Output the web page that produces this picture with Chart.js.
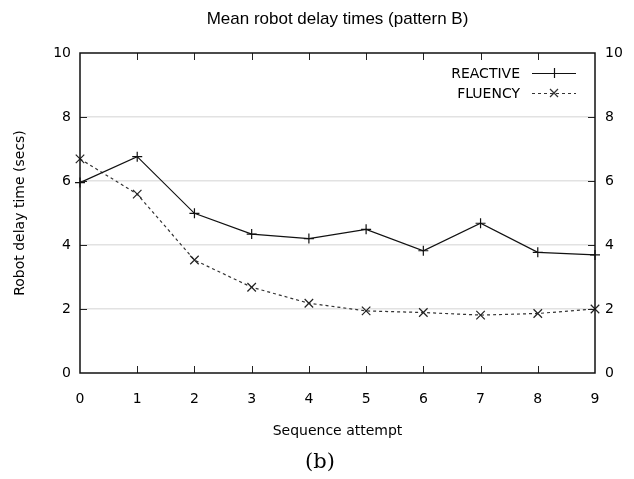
<!DOCTYPE html>
<html>
<head>
<meta charset="utf-8">
<style>
html,body{margin:0;padding:0;background:#fff;}
#wrap{width:634px;height:479px;position:relative;}
</style>
<script src="https://cdn.jsdelivr.net/npm/chart.js@4.4.1/dist/chart.umd.min.js"></script>
</head>
<body>
<div id="wrap"><canvas id="c" width="634" height="479"></canvas></div>
<script>
// ---- data ----
const attempts = [0, 1, 2, 3, 4, 5, 6, 7, 8, 9];
const reactive = [5.95, 6.76, 4.99, 4.34, 4.20, 4.49, 3.82, 4.68, 3.77, 3.69];
const fluency  = [6.69, 5.59, 3.53, 2.68, 2.18, 1.94, 1.89, 1.81, 1.86, 2.00];
const yTickValues = [0, 2, 4, 6, 8, 10];
const xTickValues = [0, 1, 2, 3, 4, 5, 6, 7, 8, 9];
const seriesNames = ['REACTIVE', 'FLUENCY'];
const chartTitle = 'Mean robot delay times (pattern B)';
const xTitle = 'Sequence attempt';
const yTitle = 'Robot delay time (secs)';
const panelLabel = '(b)';

const SANS = "'DejaVu Sans', sans-serif";

const boxPlugin = {
  id: 'boxPlugin',
  afterDatasetsDraw(chart) {
    const {ctx, chartArea: a, scales} = chart;
    const x = scales.x, y = scales.y;
    ctx.save();
    ctx.strokeStyle = '#222';
    ctx.lineWidth = 1;
    const tl = 7;
    ctx.beginPath();
    xTickValues.forEach(v => {
      if (v === x.min || v === x.max) return;
      const px = Math.round(x.getPixelForValue(v)) + 0.5;
      ctx.moveTo(px, a.bottom); ctx.lineTo(px, a.bottom - tl);
      ctx.moveTo(px, a.top); ctx.lineTo(px, a.top + tl);
    });
    yTickValues.forEach(v => {
      if (v === y.min || v === y.max) return;
      const py = Math.round(y.getPixelForValue(v)) + 0.5;
      ctx.moveTo(a.left, py); ctx.lineTo(a.left + tl, py);
      ctx.moveTo(a.right, py); ctx.lineTo(a.right - tl, py);
    });
    ctx.stroke();
    ctx.lineWidth = 1.5;
    ctx.strokeStyle = '#111';
    ctx.strokeRect(a.left, a.top, a.right - a.left, a.bottom - a.top);

    // legend
    ctx.font = '14px ' + SANS;
    ctx.fillStyle = '#000';
    ctx.textAlign = 'right';
    ctx.textBaseline = 'middle';
    const rows = [
      {name: seriesNames[0], y: 73, dash: [], marker: 'plus', color: '#111'},
      {name: seriesNames[1], y: 93, dash: [3, 3], marker: 'x', color: '#333'}
    ];
    rows.forEach(r => {
      ctx.fillText(r.name, 520, r.y + 1);
      ctx.save();
      ctx.strokeStyle = r.color;
      ctx.lineWidth = 1.2;
      ctx.setLineDash(r.dash);
      ctx.beginPath();
      ctx.moveTo(532, r.y + 0.5); ctx.lineTo(576, r.y + 0.5);
      ctx.stroke();
      ctx.setLineDash([]);
      ctx.beginPath();
      if (r.marker === 'plus') {
        ctx.moveTo(549, r.y + 0.5); ctx.lineTo(559, r.y + 0.5);
        ctx.moveTo(554.5, r.y - 5); ctx.lineTo(554.5, r.y + 5);
      } else {
        ctx.moveTo(550, r.y - 4); ctx.lineTo(558, r.y + 4);
        ctx.moveTo(550, r.y + 4); ctx.lineTo(558, r.y - 4);
      }
      ctx.stroke();
      ctx.restore();
    });
    ctx.restore();
  }
};

const ctx = document.getElementById('c').getContext('2d');
new Chart(ctx, {
  type: 'line',
  data: {
    datasets: [
      {
        label: seriesNames[0],
        data: attempts.map((a, i) => ({x: a, y: reactive[i]})),
        borderColor: '#111',
        backgroundColor: '#111',
        borderWidth: 1.2,
        tension: 0,
        fill: false,
        pointStyle: 'cross',
        pointRadius: 5,
        pointBorderWidth: 1.2,
        pointBorderColor: '#111',
        pointHoverRadius: 5,
        clip: false
      },
      {
        label: seriesNames[1],
        data: attempts.map((a, i) => ({x: a, y: fluency[i]})),
        borderColor: '#333',
        backgroundColor: '#333',
        borderWidth: 1.2,
        borderDash: [3, 3],
        tension: 0,
        fill: false,
        pointStyle: 'crossRot',
        pointRadius: 6,
        pointBorderWidth: 1.2,
        pointBorderColor: '#222',
        pointHoverRadius: 6,
        clip: false
      }
    ]
  },
  options: {
    responsive: false,
    animation: false,
    devicePixelRatio: 1,
    layout: {padding: {left: 6, right: 0, top: 0, bottom: 0}},
    plugins: {
      legend: {display: false},
      tooltip: {enabled: false},
      title: {display: false},
      subtitle: {
        display: true,
        text: panelLabel,
        position: 'bottom',
        color: '#000',
        font: {family: "'DejaVu Serif', serif", size: 21, weight: 'normal', lineHeight: 1.2},
        padding: {top: 0, bottom: 3.4}
      }
    },
    scales: {
      x: {
        type: 'linear',
        position: 'bottom',
        min: 0, max: 9,
        afterBuildTicks(s) { s.ticks = xTickValues.map(v => ({value: v})); },
        afterFit(s) { s.height = 77.4; },
        ticks: {color: '#000', font: {family: SANS, size: 14}, padding: 18, maxRotation: 0},
        grid: {display: false, drawTicks: false},
        border: {display: false},
        title: {display: true, text: xTitle, color: '#000', font: {family: SANS, size: 14}, padding: {top: 0, bottom: 11}}
      },
      x2: {
        type: 'linear',
        position: 'top',
        min: 0, max: 9,
        afterFit(s) { s.height = 53; },
        ticks: {display: false},
        grid: {display: false, drawTicks: false},
        border: {display: false},
        title: {display: true, text: chartTitle, color: '#000', font: {family: "'Liberation Sans', Arial, sans-serif", size: 17}, padding: {top: 9, bottom: 0}}
      },
      y: {
        type: 'linear',
        position: 'left',
        min: 0, max: 10,
        afterBuildTicks(s) { s.ticks = yTickValues.map(v => ({value: v})); },
        afterFit(s) { s.width = 74; },
        ticks: {color: '#000', font: {family: SANS, size: 14}, padding: 9},
        grid: {
          color: (c) => (c.tick && (c.tick.value === 0 || c.tick.value === 10)) ? 'rgba(0,0,0,0)' : '#e2e2e2',
          lineWidth: 1.5,
          drawTicks: false
        },
        border: {display: false},
        title: {display: true, text: yTitle, color: '#000', font: {family: SANS, size: 14}, padding: {top: 6, bottom: 0}}
      },
      y2: {
        type: 'linear',
        position: 'right',
        min: 0, max: 10,
        afterBuildTicks(s) { s.ticks = yTickValues.map(v => ({value: v})); },
        afterFit(s) { s.width = 39; },
        ticks: {color: '#000', font: {family: SANS, size: 14}, padding: 10},
        grid: {display: false, drawTicks: false},
        border: {display: false}
      }
    }
  },
  plugins: [boxPlugin]
});
</script>
</body>
</html>
